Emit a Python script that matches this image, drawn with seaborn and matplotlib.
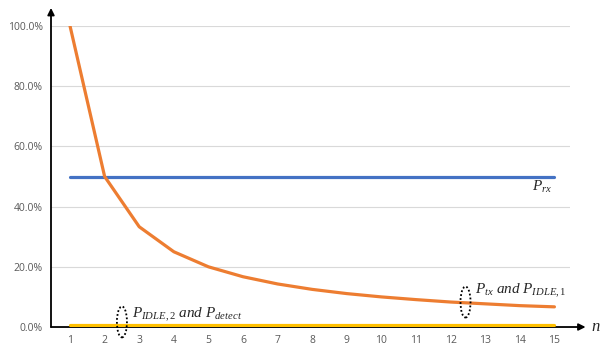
import numpy as np
import pandas as pd
import matplotlib
matplotlib.use('Agg')
import matplotlib.pyplot as plt
import seaborn as sns
from matplotlib.patches import Ellipse
from matplotlib.ticker import PercentFormatter

# data
n_values = list(range(1, 16))
p_tx = [100.0, 50.0, 33.3, 25.0, 20.0, 16.7, 14.3, 12.5, 11.1, 10.0, 9.1, 8.3, 7.7, 7.1, 6.7]
p_rx = [50.0] * 15
p_idle2 = [0.8] * 15
y_ticks = [0, 20, 40, 60, 80, 100]

df = pd.DataFrame({
    'n': n_values * 3,
    'value': p_rx + p_tx + p_idle2,
    'series': ['rx'] * 15 + ['tx'] * 15 + ['idle2'] * 15,
})
palette = {'rx': '#4472C4', 'tx': '#ED7D31', 'idle2': '#FFC000'}

sns.set_style('white')
plt.rcParams['font.family'] = ['Open Sans', 'DejaVu Sans']
plt.rcParams['mathtext.fontset'] = 'custom'
plt.rcParams['mathtext.it'] = 'Liberation Serif:italic'
plt.rcParams['mathtext.rm'] = 'Liberation Serif'

fig = plt.figure(figsize=(6, 3.49), dpi=100)
ax = fig.add_axes([0.085, 0.063, 0.865, 0.8625])

# axis arrows (drawn below the series)
ax.annotate('', xy=(0.45, 106), xytext=(0.45, 0), xycoords='data',
            arrowprops=dict(arrowstyle='-|>', color='black', lw=1.3, mutation_scale=10,
                            shrinkA=0, shrinkB=0), annotation_clip=False, zorder=2)
ax.annotate('', xy=(15.9, 0), xytext=(0.45, 0), xycoords='data',
            arrowprops=dict(arrowstyle='-|>', color='black', lw=1.3, mutation_scale=10,
                            shrinkA=0, shrinkB=0), annotation_clip=False, zorder=2)

sns.lineplot(data=df, x='n', y='value', hue='series', palette=palette,
             linewidth=2.3, legend=False, ax=ax, zorder=3)

ax.set_xlim(0.45, 15.45)
ax.set_ylim(0, 100)
ax.set_xticks(n_values)
ax.set_yticks(y_ticks)
ax.yaxis.set_major_formatter(PercentFormatter(decimals=1))
ax.tick_params(axis='both', length=0, labelsize=7.5, colors='#595959', pad=6)
ax.grid(axis='y', color='#D9D9D9', linewidth=0.8)
ax.grid(axis='x', visible=False)
ax.set_xlabel('')
ax.set_ylabel('')
for s in ['top', 'right', 'left', 'bottom']:
    ax.spines[s].set_visible(False)

ax.text(16.05, 0, '$n$', fontsize=12, va='center', ha='left', clip_on=False)

# labels
ax.text(14.35, 46.5, '$P_{rx}$', fontsize=11, va='center')
ax.text(12.7, 12.0, r'$P_{tx}\ and\ P_{IDLE,1}$', fontsize=11, va='center')
ax.text(2.78, 4.0, r'$P_{IDLE,2}\ and\ P_{detect}$', fontsize=11, va='center')

for cx, cy in [(2.5, 1.7), (12.43, 8.3)]:
    ax.add_patch(Ellipse((cx, cy), 0.29, 10.3, fill=False, edgecolor='black',
                         linestyle=(0, (1, 1.2)), linewidth=1.3, clip_on=False, zorder=4))

fig.savefig('out.png', dpi=100)
